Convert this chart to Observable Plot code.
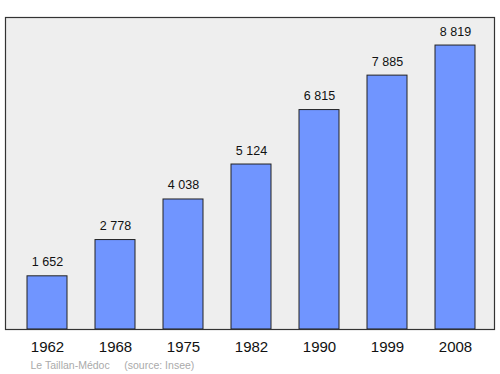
<!DOCTYPE html>
<html>
<head>
<meta charset="utf-8">
<script src="https://cdn.jsdelivr.net/npm/d3@7"></script>
<script src="https://cdn.jsdelivr.net/npm/@observablehq/plot@0.6"></script>
<style>
  html, body { margin: 0; padding: 0; background: #fff; }
  svg { display: block; }
</style>
</head>
<body>
<div id="chart"></div>
<script>
const years = ["1962", "1968", "1975", "1982", "1990", "1999", "2008"];
const population = [1652, 2778, 4038, 5124, 6815, 7885, 8819];
const labels = ["1 652", "2 778", "4 038", "5 124", "6 815", "7 885", "8 819"];
const captionText = "Le Taillan-Médoc\u00a0\u00a0\u00a0\u00a0 (source: Insee)";

const data = years.map((y, i) => ({year: y, pop: population[i], label: labels[i]}));

const chart = Plot.plot({
  width: 500,
  height: 374,
  marginLeft: 5,
  marginRight: 6,
  marginTop: 17,
  marginBottom: 45,
  style: {fontFamily: "'Liberation Sans', Arial, sans-serif", background: "#fff"},
  x: {domain: years, paddingInner: 0.4146, paddingOuter: 0.2855, align: 0.54, label: null},
  y: {domain: [0, 9690], axis: null},
  marks: [
    Plot.frame({fill: "#eeeeee"}),
    Plot.barY(data, {x: "year", y: "pop", fill: "#7095ff", stroke: "#222", strokeWidth: 1}),
    Plot.text(data, {x: "year", y: "pop", text: "label", dy: -10, lineAnchor: "bottom", fontSize: 12.5, fill: "#111"}),
    Plot.axisX({tickSize: 0, tickPadding: 12, fontSize: 15, color: "#111"}),
    Plot.frame({stroke: "#333", strokeWidth: 1.2}),
    Plot.text([captionText], {text: d => d, frameAnchor: "bottom-left", dx: 25, dy: 39, textAnchor: "start", lineAnchor: "bottom", fontSize: 10.5, fill: "#aaaaaa"})
  ]
});
document.getElementById("chart").appendChild(chart);
</script>
</body>
</html>
